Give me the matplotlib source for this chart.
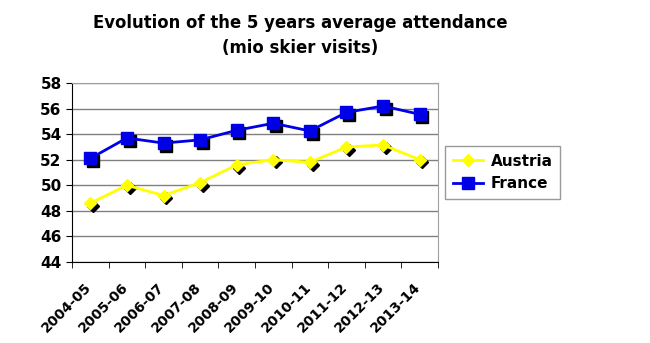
import numpy as np
import matplotlib.pyplot as plt
import matplotlib.transforms as mtransforms

seasons = ['2004-05', '2005-06', '2006-07', '2007-08', '2008-09',
           '2009-10', '2010-11', '2011-12', '2012-13', '2013-14']
austria = [48.6, 50.0, 49.2, 50.2, 51.6, 52.0, 51.8, 53.0, 53.15, 52.0]
france = [52.1, 53.7, 53.3, 53.55, 54.3, 54.85, 54.25, 55.7, 56.2, 55.55]

fig = plt.figure(figsize=(6.5, 3.43), dpi=100)
ax = fig.add_axes([72 / 650, 1 - 262 / 343, 366 / 650, 179 / 343])

x = np.arange(len(seasons))

# black drop shadow under the markers, offset down-right
shadow = mtransforms.offset_copy(ax.transData, fig=fig, x=2, y=-2, units='points')
ax.plot(x, austria, linestyle='none', marker='D', markersize=6, color='black',
        transform=shadow, zorder=2)
ax.plot(x, france, linestyle='none', marker='s', markersize=9, color='black',
        transform=shadow, zorder=2)

ax.plot(x, austria, color='#ffff00', marker='D', markersize=6, linewidth=2,
        label='Austria', zorder=3)
ax.plot(x, france, color='#0000e6', marker='s', markersize=9, linewidth=2,
        label='France', zorder=3)

ax.set_xlim(-0.5, len(seasons) - 0.5)
ax.set_ylim(44, 58)
ax.set_yticks(np.arange(44, 59, 2))
ax.yaxis.grid(True, color='#808080', linewidth=1)
ax.set_axisbelow(True)

ax.set_xticks(x)
ax.set_xticklabels(seasons, rotation=45, ha='right', va='top', rotation_mode='anchor',
                   fontweight='bold', fontsize=10)
ax.tick_params(axis='x', which='major', length=0, pad=13)
shift = mtransforms.ScaledTranslation(-0.06, 0, fig.dpi_scale_trans)
for lab in ax.get_xticklabels():
    lab.set_transform(lab.get_transform() + shift)
ax.set_xticks(np.arange(-0.5, len(seasons)), minor=True)
ax.tick_params(axis='x', which='minor', length=4, direction='out', color='black')
ax.tick_params(axis='y', length=4, direction='out', labelsize=11)
for lab in ax.get_yticklabels():
    lab.set_fontweight('bold')

for side in ['top', 'right']:
    ax.spines[side].set_color('#a0a0a0')
for side in ['left', 'bottom']:
    ax.spines[side].set_color('black')

fig.text(0.462, 0.932, 'Evolution of the 5 years average attendance',
         ha='center', va='center', fontsize=11.9, fontweight='bold')
fig.text(0.462, 0.86, '(mio skier visits)',
         ha='center', va='center', fontsize=11.9, fontweight='bold')

leg = ax.legend(loc='center left', bbox_to_anchor=(1 + 7 / 366, 0.5), frameon=True,
                borderaxespad=0, fancybox=False, edgecolor='#808080',
                prop={'weight': 'bold', 'size': 11},
                handlelength=2.0, borderpad=0.5, labelspacing=0.5, handletextpad=0.5)
leg.get_frame().set_linewidth(1)

fig.savefig('out.png', dpi=100)
